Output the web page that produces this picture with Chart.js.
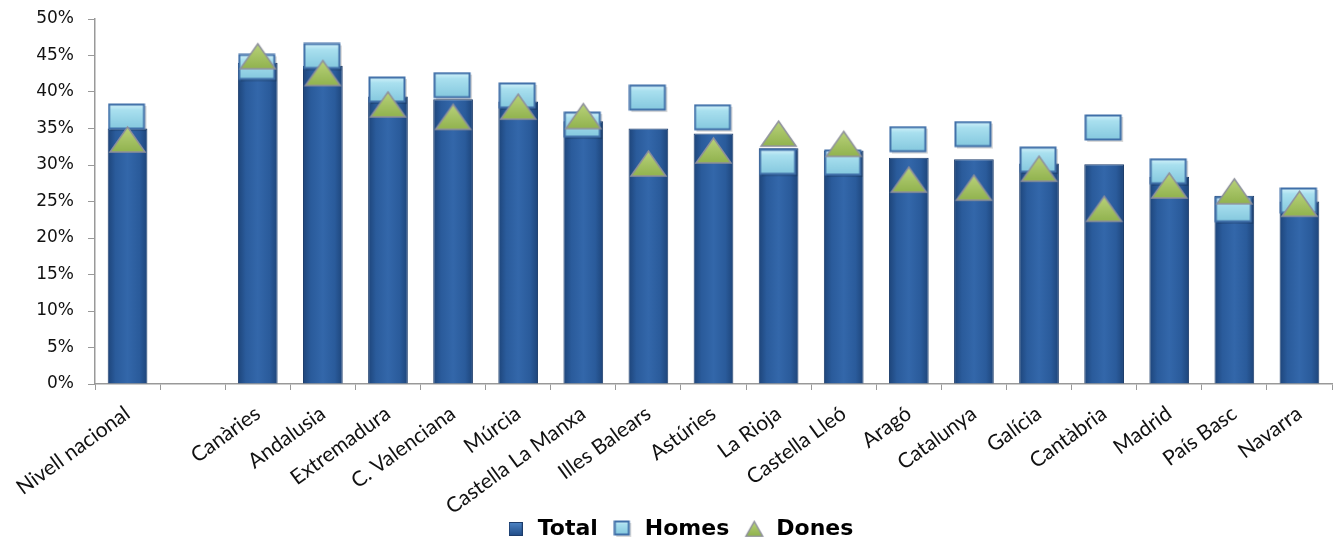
<!DOCTYPE html>
<html>
<head>
<meta charset="utf-8">
<script src="https://cdn.jsdelivr.net/npm/chart.js@4"></script>
<style>
  body { margin: 0; background: #fff; }
  #wrap { width: 1337px; height: 537px; }
</style>
</head>
<body>
<div id="wrap"><canvas id="grafica" width="1337" height="537"></canvas></div>
<script>
// Dades del gràfic (%)
var categories = ['Nivell nacional', '', 'Canàries', 'Andalusia', 'Extremadura', 'C. Valenciana', 'Múrcia',
    'Castella La Manxa', 'Illes Balears', 'Astúries', 'La Rioja', 'Castella Lleó', 'Aragó', 'Catalunya',
    'Galícia', 'Cantàbria', 'Madrid', 'País Basc', 'Navarra'];
var total = [35.0, null, 44.0, 43.6, 39.4, 39.0, 38.7, 36.0, 35.0, 34.3, 32.3, 32.0, 31.0, 30.8, 30.2, 30.1, 28.4, 25.8, 25.0];
var homes = [36.5, null, 43.3, 44.8, 40.2, 40.8, 39.4, 35.4, 39.1, 36.4, 30.3, 30.2, 33.4, 34.1, 30.6, 35.0, 29.0, 23.8, 25.0];
var dones = [33.5, null, 44.9, 42.6, 38.3, 36.6, 38.0, 36.7, 30.2, 32.0, 34.3, 32.9, 28.0, 26.9, 29.5, 24.0, 27.2, 26.4, 24.7];
var yTicks = [0, 5, 10, 15, 20, 25, 30, 35, 40, 45, 50];
var serieNames = ['Total', 'Homes', 'Dones'];

// Marcador quadrat (Homes)
function ferQuadrat(w, h) {
    var c = document.createElement('canvas');
    c.width = w + 4; c.height = h + 4;
    var g = c.getContext('2d');
    g.fillStyle = 'rgba(0,0,0,0.15)';
    g.fillRect(3, 3, w, h);
    var grad = g.createLinearGradient(0, 1, 0, h);
    grad.addColorStop(0, '#d6f3fb');
    grad.addColorStop(0.25, '#a9e0ef');
    grad.addColorStop(1, '#86c9df');
    g.fillStyle = grad;
    g.fillRect(1, 1, w, h);
    g.strokeStyle = '#3f6fa8';
    g.lineWidth = 2;
    g.strokeRect(1.5, 1.5, w - 1, h - 1);
    return c;
}

// Marcador triangle (Dones)
function ferTriangle(w, h) {
    var c = document.createElement('canvas');
    c.width = w + 4; c.height = h + 4;
    var g = c.getContext('2d');
    var grad = g.createLinearGradient(0, 2, 0, h);
    grad.addColorStop(0, '#b9d27a');
    grad.addColorStop(1, '#94b552');
    g.beginPath();
    g.moveTo(2 + w / 2, 2);
    g.lineTo(2 + w, 2 + h);
    g.lineTo(2, 2 + h);
    g.closePath();
    g.fillStyle = grad;
    g.fill();
    g.strokeStyle = '#8e909c';
    g.lineWidth = 1.5;
    g.stroke();
    return c;
}

// Quadrat petit de la llegenda (Total)
function ferQuadratTotal(s) {
    var c = document.createElement('canvas');
    c.width = s; c.height = s;
    var g = c.getContext('2d');
    var grad = g.createLinearGradient(0, 0, 0, s);
    grad.addColorStop(0, '#4f86c6');
    grad.addColorStop(1, '#1f4a85');
    g.fillStyle = grad;
    g.fillRect(0, 0, s, s);
    g.strokeStyle = '#1c3c6b';
    g.strokeRect(0.5, 0.5, s - 1, s - 1);
    return c;
}

var marcaHomes = ferQuadrat(36, 25);
var marcaDones = ferTriangle(35, 25);
var llegendaIcones = [ferQuadratTotal(14), ferQuadrat(15, 14), ferTriangle(17, 15)];

function colorBarra(context) {
    var chart = context.chart;
    var xScale = chart.scales.x;
    if (!xScale || !chart.chartArea) return '#2b5c9c';
    var cx = xScale.getPixelForValue(context.dataIndex);
    var half = 20;
    var grad = chart.ctx.createLinearGradient(cx - half, 0, cx + half, 0);
    grad.addColorStop(0, '#1d4479');
    grad.addColorStop(0.2, '#2a5b9b');
    grad.addColorStop(0.5, '#3367aa');
    grad.addColorStop(0.8, '#2a5b9b');
    grad.addColorStop(1, '#1d4479');
    return grad;
}

// Evitar que les etiquetes girades quedin retallades i moure una mica la llegenda
var ajustos = {
    id: 'ajustos',
    afterLayout: function(chart) {
        chart.scales.x.bottom = chart.height;
        chart.legend.left += 11;
        chart.legend.right += 11;
    }
};

var ctx = document.getElementById('grafica').getContext('2d');
var myChart = new Chart(ctx, {
    type: 'bar',
    data: {
        labels: categories,
        datasets: [{
            label: serieNames[0],
            data: total,
            backgroundColor: colorBarra,
            borderColor: '#1c3c6b',
            borderWidth: 1,
            categoryPercentage: 1,
            barPercentage: 0.61,
            order: 3
        }, {
            type: 'line',
            label: serieNames[1],
            data: homes,
            showLine: false,
            pointStyle: marcaHomes,
            order: 2
        }, {
            type: 'line',
            label: serieNames[2],
            data: dones,
            showLine: false,
            pointStyle: marcaDones,
            order: 1
        }]
    },
    plugins: [ajustos],
    options: {
        responsive: false,
        animation: false,
        layout: { padding: { top: 19, right: 1, left: 0, bottom: -13 } },
        plugins: {
            tooltip: { enabled: false },
            legend: {
                position: 'bottom',
                labels: {
                    usePointStyle: true,
                    color: '#111',
                    font: { family: 'DejaVu Sans', size: 22, weight: 'bold' },
                    padding: 14,
                    generateLabels: function(chart) {
                        return serieNames.map(function(n, i) {
                            return { text: n, pointStyle: llegendaIcones[i], datasetIndex: i,
                                     fillStyle: 'transparent', strokeStyle: 'transparent', lineWidth: 0 };
                        });
                    }
                }
            }
        },
        scales: {
            x: {
                grid: { display: true, drawOnChartArea: false, color: '#999', tickLength: 6, offset: true },
                border: { color: '#999', width: 1.5 },
                ticks: {
                    minRotation: 36, maxRotation: 36, autoSkip: false,
                    color: '#111',
                    padding: 11,
                    font: { family: 'Lato', size: 21 }
                },
                afterFit: function(scale) { scale.height = 120; }
            },
            y: {
                min: 0, max: 50,
                afterBuildTicks: function(scale) {
                    scale.ticks = yTicks.map(function(v) { return { value: v }; });
                },
                grid: { display: true, drawOnChartArea: false, color: '#999', tickLength: 7 },
                border: { color: '#999', width: 1.5 },
                ticks: {
                    color: '#111',
                    padding: 14,
                    font: { family: 'DejaVu Sans', size: 17 },
                    callback: function(v) { return v + '%'; }
                },
                afterFit: function(scale) {
                    scale.width = 95;
                    scale.paddingTop = 0;
                    scale.paddingBottom = 0;
                }
            }
        }
    }
});
</script>
</body>
</html>
